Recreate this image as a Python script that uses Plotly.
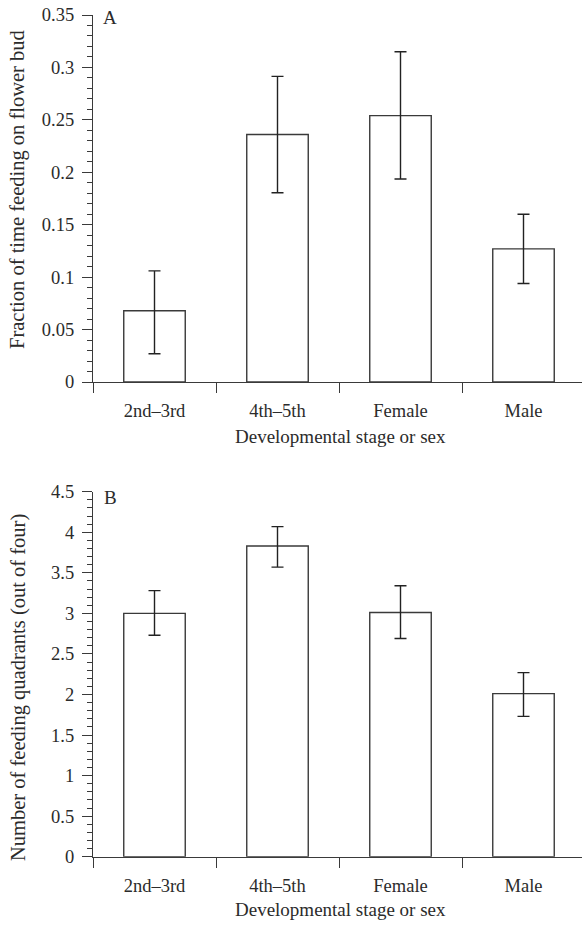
import plotly.graph_objects as go

categories = ["2nd\u20133rd", "4th\u20135th", "Female", "Male"]
positions = [0, 1, 2, 3]

# Panel A: fraction of time feeding on flower bud
a_mean = [0.068, 0.236, 0.254, 0.127]
a_upper = [0.106, 0.2915, 0.315, 0.160]
a_lower = [0.027, 0.1805, 0.1936, 0.094]

# Panel B: number of feeding quadrants (out of four)
b_mean = [3.0, 3.83, 3.01, 2.01]
b_upper = [3.28, 4.07, 3.34, 2.27]
b_lower = [2.73, 3.57, 2.69, 1.73]

W, H = 582, 927
FONT = "Liberation Serif"
TXT = "#2b2b2b"
LINE = "#3a3a3a"


def px(pix):
    return pix / W


def py(pix):
    return 1 - pix / H


fig = go.Figure()

for mean, up, lo, xa, ya in [(a_mean, a_upper, a_lower, "x", "y"),
                             (b_mean, b_upper, b_lower, "x2", "y2")]:
    fig.add_trace(go.Bar(
        x=positions, y=mean, width=0.5, xaxis=xa, yaxis=ya,
        marker=dict(color="white", line=dict(color=LINE, width=1.4)),
        error_y=dict(type="data", symmetric=False,
                     array=[u - m for u, m in zip(up, mean)],
                     arrayminus=[m - l for m, l in zip(mean, lo)],
                     color="#222222", thickness=1.4, width=6),
        showlegend=False, hoverinfo="skip",
    ))

xr = [-0.5, -0.5 + (582 - 93) / 123]

xcommon = dict(
    domain=[px(93), 1], range=xr, showline=True, linecolor=LINE, linewidth=1.2,
    tickmode="array", tickvals=positions, ticktext=categories,
    ticks="", ticklabelstandoff=12, showgrid=False, zeroline=False,
    automargin=False,
    tickfont=dict(family=FONT, size=18.5, color=TXT),
    minor=dict(tickmode="linear", tick0=-0.5, dtick=1, ticks="outside",
               ticklen=10, tickwidth=1.2, tickcolor=LINE, showgrid=False),
)

ycommon = dict(
    showline=True, linecolor=LINE, linewidth=1.2, ticks="outside",
    ticklen=10, tickwidth=1.2, tickcolor=LINE, showgrid=False, zeroline=False,
    automargin=False,
    tickfont=dict(family=FONT, size=18.5, color=TXT), ticklabelstandoff=4,
)

fig.update_layout(
    width=W, height=H, margin=dict(l=0, r=0, t=0, b=0, pad=0, autoexpand=False),
    paper_bgcolor="white", plot_bgcolor="white",
    font=dict(family=FONT, size=18, color=TXT),
    xaxis=dict(anchor="y", **xcommon),
    xaxis2=dict(anchor="y2", **xcommon),
    yaxis=dict(anchor="x", domain=[py(382), py(15)], range=[0, 0.3500001],
               tickmode="array", tickvals=[0, 0.05, 0.1, 0.15, 0.2, 0.25, 0.3, 0.35],
               ticktext=["0", "0.05", "0.1", "0.15", "0.2", "0.25", "0.3", "0.35"],
               minor=dict(tickmode="linear", tick0=0, dtick=0.01, ticks="outside",
                          ticklen=5, tickwidth=1, tickcolor=LINE, showgrid=False),
               **ycommon),
    yaxis2=dict(anchor="x2", domain=[py(856.7), py(491.7)], range=[0, 4.5000001],
                tickmode="linear", tick0=0, dtick=0.5,
                minor=dict(tickmode="linear", tick0=0, dtick=0.1, ticks="outside",
                           ticklen=5, tickwidth=1, tickcolor=LINE, showgrid=False),
                **ycommon),
    bargap=0.5,
)

ann = [
    dict(text="A", x=px(110), y=py(18), size=19),
    dict(text="B", x=px(110), y=py(497), size=19),
    dict(text="Developmental stage or sex", x=px(340), y=py(436), size=19),
    dict(text="Developmental stage or sex", x=px(340), y=py(909), size=19),
]
for a in ann:
    fig.add_annotation(text=a["text"], x=a["x"], y=a["y"], xref="paper", yref="paper",
                       showarrow=False, xanchor="center", yanchor="middle",
                       font=dict(family=FONT, size=a["size"], color=TXT))

fig.add_annotation(text="Fraction of time feeding on flower bud", x=px(18), y=py(190),
                   xref="paper", yref="paper", showarrow=False, textangle=-90,
                   xanchor="center", yanchor="middle",
                   font=dict(family=FONT, size=20.5, color=TXT))
fig.add_annotation(text="Number of feeding quadrants (out of four)", x=px(18), y=py(688),
                   xref="paper", yref="paper", showarrow=False, textangle=-90,
                   xanchor="center", yanchor="middle",
                   font=dict(family=FONT, size=20.5, color=TXT))

fig.write_html("out.html", config={"displayModeBar": False},
               post_script="document.body.style.margin='0';document.body.style.overflow='hidden';")
